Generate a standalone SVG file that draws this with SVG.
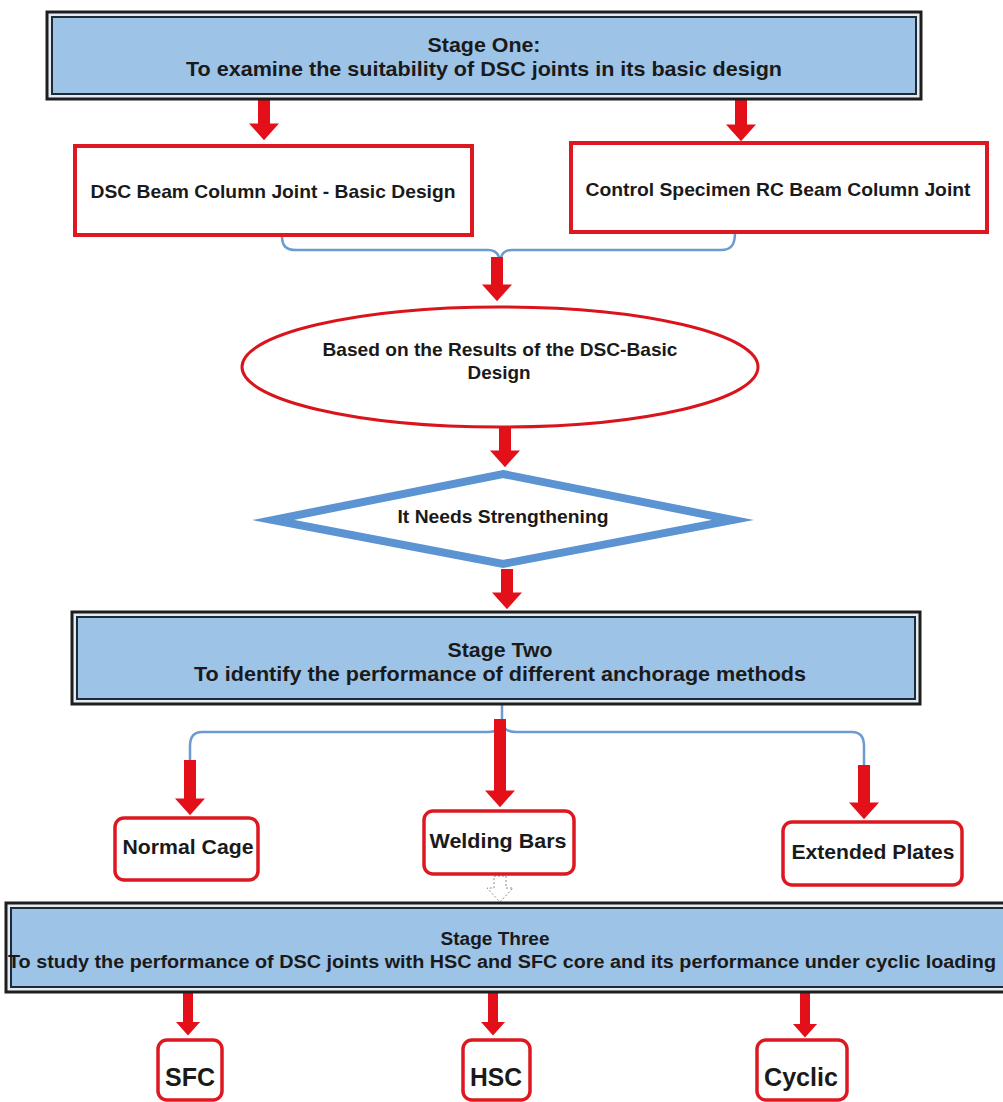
<svg xmlns="http://www.w3.org/2000/svg" width="1003" height="1102" viewBox="0 0 1003 1102">
<style>
  .stage-outer { fill: #e4ebf2; stroke: #1e1e1e; stroke-width: 3; }
  .stage-inner { fill: #9dc3e6; stroke: #1e2a36; stroke-width: 2; }
  .sq { fill: #ffffff; stroke: #dc1820; stroke-width: 4; }
  .rb { fill: #ffffff; stroke: #dc1820; stroke-width: 3.5; }
  .ell { fill: #ffffff; stroke: #d9141b; stroke-width: 3; }
  .dia { fill: #ffffff; stroke: #5b93d3; stroke-width: 8; stroke-miterlimit: 10; }
  .t { font-family: "Liberation Sans", Arial, sans-serif; font-weight: bold; fill: #1a1a1a; text-anchor: middle; }
  .h { font-size: 21px; }
  .h3 { font-size: 18px; }
  .lbl { font-size: 19px; }
  .lbl2 { font-size: 21px; }
  .big { font-size: 26px; }
  .arr { stroke: #e3101a; fill: none; marker-end: url(#head); }
  .brace { fill: none; stroke: #6b9bd0; stroke-width: 2.5; }
  .hollow { fill: #ffffff; stroke: #8a8a8a; stroke-width: 1; stroke-dasharray: 2 2; }
</style>
<defs>
  <marker id="head" viewBox="0 0 14 25" refX="0.5" refY="12.5" markerWidth="1.4" markerHeight="2.5" markerUnits="strokeWidth" orient="auto">
    <path d="M0,0 L14,12.5 L0,25 Z" fill="#e3101a"/>
  </marker>
</defs>

<g id="connectors">
  <path class="brace" d="M282,236 C282,246 286,250 296,250 L488,250 C496,250 500,254 500,264"/>
  <path class="brace" d="M735,233 C735,245 731,250 721,250 L512,250 C504,250 500,254 500,264"/>
  <path class="brace" d="M502,688 L502,720 C502,728 498,732 488,732 L202,732 C194,732 190,736 190,746 L190,762"/>
  <path class="brace" d="M502,720 C502,728 506,732 516,732 L852,732 C860,732 864,736 864,746 L864,766"/>
  <line class="arr" x1="264" y1="100" x2="264" y2="124" stroke-width="12"/>
  <line class="arr" x1="741" y1="100" x2="741" y2="125" stroke-width="12"/>
  <line class="arr" x1="497" y1="257" x2="497" y2="285" stroke-width="12"/>
  <line class="arr" x1="505" y1="428" x2="505" y2="451" stroke-width="12"/>
  <line class="arr" x1="507" y1="569" x2="507" y2="593" stroke-width="12"/>
  <line class="arr" x1="500" y1="719" x2="500" y2="791" stroke-width="12"/>
  <line class="arr" x1="190" y1="760" x2="190" y2="799" stroke-width="12"/>
  <line class="arr" x1="864" y1="765" x2="864" y2="803" stroke-width="12"/>
  <line class="arr" x1="188" y1="993" x2="188" y2="1022" stroke-width="10"/>
  <line class="arr" x1="493" y1="993" x2="493" y2="1022" stroke-width="10"/>
  <line class="arr" x1="805" y1="993" x2="805" y2="1024" stroke-width="10"/>
  <path class="hollow" d="M494,876 L506,876 L506,888 L513,888 L500,902 L487,888 L494,888 Z"/>
</g>

<g id="stage-one">
  <rect class="stage-outer" x="47" y="12" width="874" height="87"/>
  <rect class="stage-inner" x="52" y="17" width="864" height="77"/>
  <text class="t h" x="484" y="52" textLength="113" lengthAdjust="spacingAndGlyphs">Stage One:</text>
  <text class="t h" x="484" y="76" textLength="596" lengthAdjust="spacingAndGlyphs">To examine the suitability of DSC joints in its basic design</text>
</g>

<g id="dsc-basic">
  <rect class="sq" x="75" y="146" width="397" height="89"/>
  <text class="t lbl" x="273" y="198" textLength="365" lengthAdjust="spacingAndGlyphs">DSC Beam Column Joint - Basic Design</text>
</g>

<g id="control-specimen">
  <rect class="sq" x="571" y="143" width="416" height="89"/>
  <text class="t lbl" x="778" y="196" textLength="385" lengthAdjust="spacingAndGlyphs">Control Specimen RC Beam Column Joint</text>
</g>

<g id="results">
  <ellipse class="ell" cx="500" cy="367" rx="258" ry="60"/>
  <text class="t lbl" x="500" y="356" textLength="355" lengthAdjust="spacingAndGlyphs">Based on the Results of the DSC-Basic</text>
  <text class="t lbl" x="499" y="379" textLength="63" lengthAdjust="spacingAndGlyphs">Design</text>
</g>

<g id="decision">
  <polygon class="dia" points="503,474 733,520 503,564 273,520"/>
  <text class="t lbl" x="503" y="523" textLength="211" lengthAdjust="spacingAndGlyphs">It Needs Strengthening</text>
</g>

<g id="stage-two">
  <rect class="stage-outer" x="72" y="612" width="848" height="92"/>
  <rect class="stage-inner" x="77" y="617" width="838" height="82"/>
  <text class="t h" x="500" y="657" textLength="105" lengthAdjust="spacingAndGlyphs">Stage Two</text>
  <text class="t h" x="500" y="681" textLength="612" lengthAdjust="spacingAndGlyphs">To identify the performance of different anchorage methods</text>
</g>

<g id="normal-cage">
  <rect class="rb" x="115" y="818" width="143" height="62" rx="9"/>
  <text class="t lbl2" x="188" y="854" textLength="131" lengthAdjust="spacingAndGlyphs">Normal Cage</text>
</g>

<g id="welding-bars">
  <rect class="rb" x="424" y="811" width="150" height="63" rx="9"/>
  <text class="t lbl2" x="498" y="848" textLength="137" lengthAdjust="spacingAndGlyphs">Welding Bars</text>
</g>

<g id="extended-plates">
  <rect class="rb" x="783" y="822" width="179" height="63" rx="9"/>
  <text class="t lbl2" x="873" y="859" textLength="163" lengthAdjust="spacingAndGlyphs">Extended Plates</text>
</g>

<g id="stage-three">
  <rect class="stage-outer" x="6" y="903" width="1000" height="89"/>
  <rect class="stage-inner" x="11" y="908" width="995" height="79"/>
  <text class="t h3" x="495" y="945" textLength="109" lengthAdjust="spacingAndGlyphs">Stage Three</text>
  <text class="t h3" x="502" y="968" textLength="988" lengthAdjust="spacingAndGlyphs">To study the performance of DSC joints with HSC and SFC core and its performance under cyclic loading</text>
</g>

<g id="sfc">
  <rect class="rb" x="158" y="1040" width="64" height="60" rx="9"/>
  <text class="t big" x="190" y="1086" textLength="50" lengthAdjust="spacingAndGlyphs">SFC</text>
</g>

<g id="hsc">
  <rect class="rb" x="463" y="1040" width="67" height="60" rx="9"/>
  <text class="t big" x="496" y="1086" textLength="52" lengthAdjust="spacingAndGlyphs">HSC</text>
</g>

<g id="cyclic">
  <rect class="rb" x="757" y="1040" width="90" height="60" rx="9"/>
  <text class="t big" x="801" y="1086" textLength="74" lengthAdjust="spacingAndGlyphs">Cyclic</text>
</g>
</svg>
